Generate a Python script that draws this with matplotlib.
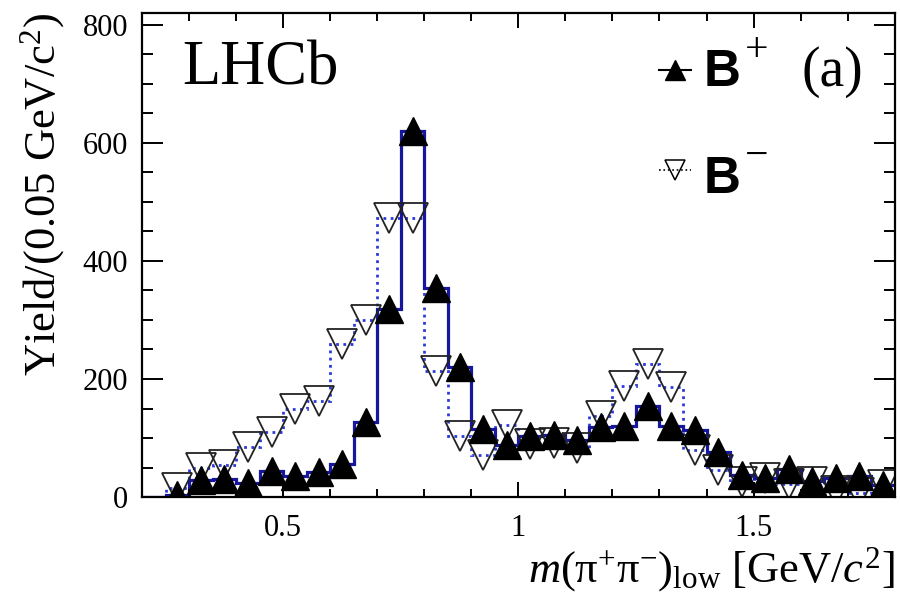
import matplotlib
matplotlib.use("Agg")
import matplotlib.pyplot as plt
import numpy as np
from matplotlib.ticker import MultipleLocator

plt.rcParams["font.family"] = ["Liberation Serif", "DejaVu Serif"]
plt.rcParams["mathtext.fontset"] = "custom"
plt.rcParams["mathtext.rm"] = "Liberation Serif"
plt.rcParams["mathtext.it"] = "Liberation Serif:italic"
plt.rcParams["mathtext.bf"] = "Liberation Sans:bold"

# yields per 0.05 GeV bin, first bin starts at 0.25
bin_start = 0.25
bin_width = 0.05
yield_bplus = [3, 29, 30, 24, 45, 35, 43, 56, 127, 318, 620, 354, 221, 116, 88,
               103, 106, 96, 119, 121, 155, 121, 114, 77, 37, 33, 48, 27, 33, 36, 20]
yield_bminus = [15, 50, 55, 85, 110, 149, 162, 260, 300, 472, 472, 213, 104, 71, 122,
                90, 92, 84, 137, 188, 226, 187, 80, 46, 25, 32, 23, 26, 11, 7, 21]

x_range = (0.2, 1.8)
y_range = (0, 820)

solid_blue = "#16169e"
dotted_blue = "#2a3ad8"

edges = bin_start + bin_width * np.arange(len(yield_bplus) + 1)
centers = edges[:-1] + bin_width / 2
# histogram outline also covers the empty bin below bin_start
full_edges = np.r_[x_range[0], edges]

fig = plt.figure(figsize=(9, 6.07), dpi=100)
ax = fig.add_axes([0.158, 0.181, 0.836, 0.798])

ax.stairs(np.r_[0, yield_bminus], full_edges, baseline=None,
          color=dotted_blue, lw=2.0, ls=(0, (1, 1.6)))
ax.stairs(np.r_[0, yield_bplus], full_edges, baseline=None,
          color=solid_blue, lw=2.3)
ax.plot(centers, yield_bminus, "v", ms=21, mfc="none", mec="#222222", mew=1.3)
ax.plot(centers, yield_bplus, "^", ms=20, color="black")

ax.set_xlim(*x_range)
ax.set_ylim(*y_range)
ax.xaxis.set_major_locator(MultipleLocator(0.5))
ax.xaxis.set_minor_locator(MultipleLocator(0.1))
ax.yaxis.set_major_locator(MultipleLocator(200))
ax.yaxis.set_minor_locator(MultipleLocator(50))
ax.xaxis.set_major_formatter(lambda v, p: f"{v:g}")

ax.tick_params(which="both", direction="in", top=True, right=True,
               width=1.4, labelsize=22)
ax.tick_params(axis="y", which="major", length=15, pad=10)
ax.tick_params(axis="y", which="minor", length=8)
ax.tick_params(axis="x", which="major", length=11, pad=12)
ax.tick_params(axis="x", which="minor", length=6)
for sp in ax.spines.values():
    sp.set_linewidth(1.6)

ax.set_ylabel("Yield/(0.05 GeV/c$^{2}$)", fontsize=32, loc="top")
ax.yaxis.set_label_coords(-0.1, 1.0)
ax.set_xlabel(r"$m(\mathrm{\pi}^{+}\mathrm{\pi}^{-})_{\mathrm{low}}$ [GeV/$c^{2}$]",
              fontsize=32, loc="right")
ax.xaxis.set_label_coords(1.0, -0.1)

ax.text(0.053, 0.851, "LHCb", fontsize=45, transform=ax.transAxes,
        ha="left", va="baseline")
ax.text(0.8765, 0.849, "(a)", fontsize=40, transform=ax.transAxes,
        ha="left", va="baseline")

# legend entries
ax.plot([0.687, 0.730], [0.882, 0.882], color="black", lw=1.5,
        transform=ax.transAxes, clip_on=False)
ax.plot([0.708], [0.882], "^", ms=14, color="black",
        transform=ax.transAxes, clip_on=False)
ax.text(0.745, 0.849, r"$\mathbf{B}$", fontsize=37, transform=ax.transAxes,
        ha="left", va="baseline")
ax.text(0.801, 0.9215, "+", fontsize=30, transform=ax.transAxes,
        ha="left", va="center")
ax.plot([0.687, 0.730], [0.6756, 0.6756], color="black", lw=1.2, ls=":",
        transform=ax.transAxes, clip_on=False)
ax.plot([0.708], [0.6756], "v", ms=15, mfc="none", mec="black", mew=1.1,
        transform=ax.transAxes, clip_on=False)
ax.text(0.745, 0.628, r"$\mathbf{B}$", fontsize=37, transform=ax.transAxes,
        ha="left", va="baseline")
ax.text(0.801, 0.7025, "\u2212", fontsize=30, transform=ax.transAxes,
        ha="left", va="center")

fig.savefig("out.png", dpi=100)
plt.close(fig)
